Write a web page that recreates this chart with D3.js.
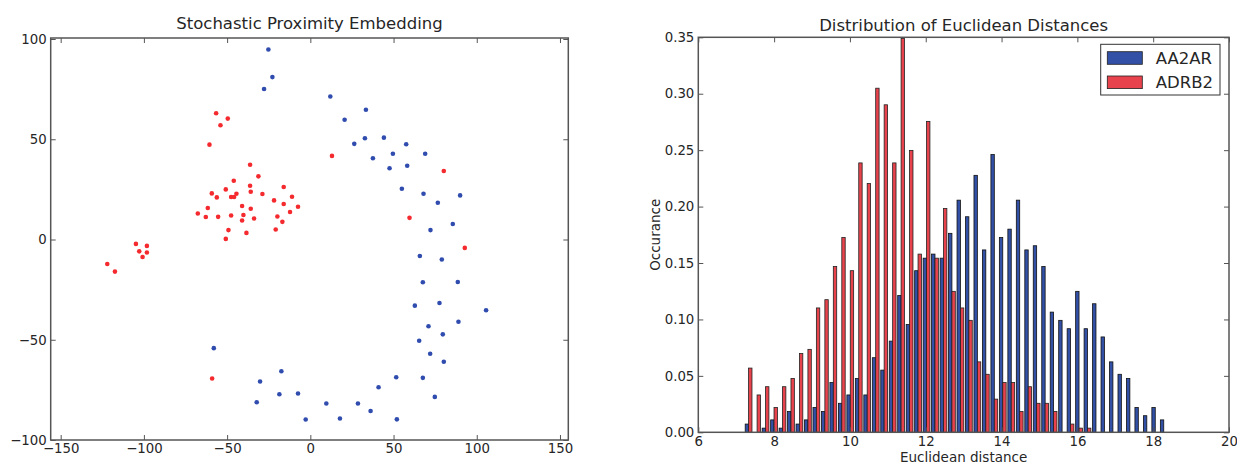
<!DOCTYPE html>
<html><head><meta charset="utf-8">
<script src="https://cdn.jsdelivr.net/npm/d3@7"></script>
<style>
body{margin:0;background:#fff}
svg{display:block}
text{font-family:"DejaVu Sans",sans-serif;fill:#262626}
</style>
</head><body>
<svg id="c" width="1237" height="466"></svg>
<script>
// ---------- Stochastic Proximity Embedding (scatter) ----------
const bluePoints = [
  [-25.2,94.8],[-22.8,81],[-27.8,75.1],
  [12,71.3],[33.4,64.7],[20.6,59.7],[26.4,47.7],[32.8,50.5],[44.2,50.8],[57.6,47.5],[49.6,42.8],[69,42.8],
  [37.6,40.5],[58.2,36.8],[47.6,35.5],[55,25.3],[68,22.8],[90,22],[76.6,18.3],[85.6,7.7],[72.2,4.7],
  [65.8,-8.2],[79,-10],[67.6,-21.3],[88.6,-21.2],[62.8,-33],[77.6,-31.7],[105.6,-35.3],[71,-43.3],[89,-41],
  [79.6,-47.3],[65.4,-50.5],[72,-57],[80.2,-61],[51.6,-68.7],[67.6,-69],[41,-73.7],[74.8,-78.5],[9.6,-81.8],
  [28.6,-81.8],[36.2,-85.5],[17.8,-89.3],[52,-89.7],
  [-58,-54.2],[-17.4,-65.7],[-30.2,-70.8],[-18.6,-77.2],[-7.4,-76.8],[-32.2,-81.2],[-2.8,-89.8]
];
const redPoints = [
  [-56.6,63],[-49.6,60.3],[-54,57],[-60.6,47.3],[-36.2,37.3],[-31.2,31.5],[-46,29.3],[-50.8,25],[-36.2,26.8],
  [-35.8,23.8],[-16,26.2],[-28.8,22.7],[-59.2,23],[-56.2,21],[-47.6,21.2],[-45.8,21.2],[-44.4,22.8],[-11,21.3],
  [-21.8,19.5],[-16,17.7],[-7.4,16.3],[-41,16.7],[-35.8,15.3],[-61.6,15.7],[-67.6,13],[-12.2,13.7],[-62.8,11.2],
  [-55.4,11.3],[-47.6,12],[-40.2,12.2],[-19.8,11.5],[-41,9.5],[-33.8,10.5],[-16.8,8.8],[-49.2,4.7],[-20.8,5],
  [-38.4,3.3],[-50.8,0.3],
  [-104.8,-2.2],[-98.2,-3.2],[-102.8,-5.9],[-98.2,-6.5],[-100.8,-8.7],[-122,-12.2],[-117.4,-16],[-59,-69.3],
  [13,41.7],[80.2,34.2],[59.6,10.8],[92.8,-4.2]
];
const scatterXTicks = [-150,-100,-50,0,50,100,150];
const scatterYTicks = [-100,-50,0,50,100];
const scatterTitle = "Stochastic Proximity Embedding";

// ---------- Distribution of Euclidean Distances (histogram) ----------
const binLefts = [7.215,7.439,7.662,7.886,8.109,8.333,8.556,8.780,9.003,9.227,
  9.450,9.674,9.897,10.121,10.344,10.568,10.791,11.015,11.238,11.462,
  11.685,11.909,12.132,12.356,12.579,12.803,13.026,13.250,13.473,13.697,
  13.920,14.144,14.367,14.591,14.814,15.038,15.261,15.485,15.708,15.932,
  16.155,16.379,16.602,16.826,17.049,17.273,17.496,17.720,17.943,18.167];
const binWidth = 0.2235;
const aa2arValues = [0.0073,0,0.0037,0.011,0.0037,0.0184,0.0073,0.011,0.022,0.0184,
  0.0441,0.0257,0.0331,0.0477,0.0331,0.0661,0.0551,0.0808,0.1212,0.0955,
  0.1432,0.1543,0.1579,0.1543,0.1763,0.2057,0.191,0.2277,0.1616,0.2461,
  0.1726,0.18,0.2057,0.1616,0.1653,0.1469,0.1065,0.0992,0.0918,0.1249,
  0.0918,0.1139,0.0845,0.0624,0.0514,0.0477,0.022,0.0147,0.022,0.011];
const adrb2Values = [0.0569,0.0331,0.0404,0.022,0.0404,0.0477,0.0698,0.0735,0.1102,0.1175,
  0.1469,0.1726,0.1432,0.2387,0.2204,0.3049,0.2902,0.2387,0.3489,0.2498,
  0.1579,0.2755,0.1543,0.1983,0.1249,0.1102,0.0992,0.0624,0.0514,0.0294,
  0.0441,0.0441,0.0184,0.0404,0.0257,0.0257,0.0184,0,0.0073,0.0037,
  0.0037,0,0,0,0,0,0,0,0,0];
const histXTicks = [6,8,10,12,14,16,18,20];
const histYTicks = [0,0.05,0.10,0.15,0.20,0.25,0.30,0.35];
const seriesNames = ["AA2AR","ADRB2"];
const histTitle = "Distribution of Euclidean Distances";
const histXLabel = "Euclidean distance";
const histYLabel = "Occurance";

// ---------- drawing ----------
const svg = d3.select("#c");
const BLUE_PT = "#2f4cae", RED_PT = "#f42a2e";
const BLUE_BAR = "#3150a6", RED_BAR = "#e8434c";
const SPINE = "#555";
const TICK_FS = "13.3px";

function frame(g, x0, x1, y0, y1) {
  g.append("rect").attr("x", x0).attr("y", y0).attr("width", x1 - x0).attr("height", y1 - y0)
    .attr("fill", "none").attr("stroke", SPINE).attr("stroke-width", 1.5);
}
function styleAxis(sel) {
  sel.select(".domain").remove();
  sel.selectAll(".tick line").attr("stroke", SPINE).attr("stroke-width", 1);
  sel.selectAll(".tick text").style("font-size", TICK_FS).attr("fill", "#262626");
}
const minusFmt = d => d < 0 ? "\u2212" + Math.abs(d) : String(d);

// Left panel
(function () {
  const L = 50.7, R = 568.3, T = 38, B = 440;
  const x = d3.scaleLinear().domain([-156, 155]).range([L, R]);
  const y = d3.scaleLinear().domain([-100, 100.5]).range([B, T]);
  const g = svg.append("g");

  g.append("g").selectAll("circle").data(bluePoints).join("circle")
    .attr("cx", d => x(d[0])).attr("cy", d => y(d[1])).attr("r", 2.3).attr("fill", BLUE_PT);
  g.append("g").selectAll("circle").data(redPoints).join("circle")
    .attr("cx", d => x(d[0])).attr("cy", d => y(d[1])).attr("r", 2.3).attr("fill", RED_PT);

  g.append("g").attr("transform", `translate(0,${B})`)
    .call(d3.axisBottom(x).tickValues(scatterXTicks).tickFormat(minusFmt).tickSizeInner(-5).tickSizeOuter(0).tickPadding(4))
    .call(styleAxis);
  g.append("g").attr("transform", `translate(0,${T})`)
    .call(d3.axisTop(x).tickValues(scatterXTicks).tickFormat("").tickSizeInner(-5).tickSizeOuter(0))
    .call(styleAxis);
  g.append("g").attr("transform", `translate(${L},0)`)
    .call(d3.axisLeft(y).tickValues(scatterYTicks).tickFormat(minusFmt).tickSizeInner(-5).tickSizeOuter(0).tickPadding(4))
    .call(styleAxis);
  g.append("g").attr("transform", `translate(${R},0)`)
    .call(d3.axisRight(y).tickValues(scatterYTicks).tickFormat("").tickSizeInner(-5).tickSizeOuter(0))
    .call(styleAxis);
  frame(g, L, R, T, B);

  g.append("text").attr("x", (L + R) / 2).attr("y", 29).attr("text-anchor", "middle")
    .style("font-size", "16.5px").text(scatterTitle);
})();

// Right panel
(function () {
  const L = 698.3, R = 1229, T = 37.3, B = 432.3;
  const x = d3.scaleLinear().domain([6, 20]).range([L, R]);
  const y = d3.scaleLinear().domain([0, 0.35]).range([B, T]);
  const g = svg.append("g");
  const w = x(6 + binWidth * 0.4) - x(6);

  const bins = binLefts.map((b, i) => ({ b, a: aa2arValues[i], r: adrb2Values[i] }));
  g.append("g").selectAll("rect").data(bins.filter(d => d.a > 0)).join("rect")
    .attr("x", d => x(d.b + binWidth * 0.1)).attr("width", w)
    .attr("y", d => y(d.a)).attr("height", d => y(0) - y(d.a))
    .attr("fill", BLUE_BAR).attr("stroke", "#111").attr("stroke-width", 0.8);
  g.append("g").selectAll("rect").data(bins.filter(d => d.r > 0)).join("rect")
    .attr("x", d => x(d.b + binWidth * 0.5)).attr("width", w)
    .attr("y", d => y(d.r)).attr("height", d => y(0) - y(d.r))
    .attr("fill", RED_BAR).attr("stroke", "#222").attr("stroke-width", 0.8);

  g.append("g").attr("transform", `translate(0,${B})`)
    .call(d3.axisBottom(x).tickValues(histXTicks).tickFormat(d3.format("d")).tickSizeInner(-5).tickSizeOuter(0).tickPadding(4))
    .call(styleAxis);
  g.append("g").attr("transform", `translate(0,${T})`)
    .call(d3.axisTop(x).tickValues(histXTicks).tickFormat("").tickSizeInner(-5).tickSizeOuter(0))
    .call(styleAxis);
  g.append("g").attr("transform", `translate(${L},0)`)
    .call(d3.axisLeft(y).tickValues(histYTicks).tickFormat(d3.format(".2f")).tickSizeInner(-5).tickSizeOuter(0).tickPadding(4))
    .call(styleAxis);
  g.append("g").attr("transform", `translate(${R},0)`)
    .call(d3.axisRight(y).tickValues(histYTicks).tickFormat("").tickSizeInner(-5).tickSizeOuter(0))
    .call(styleAxis);
  frame(g, L, R, T, B);

  g.append("text").attr("x", (L + R) / 2).attr("y", 30.5).attr("text-anchor", "middle")
    .style("font-size", "16.5px").text(histTitle);
  g.append("text").attr("x", (L + R) / 2).attr("y", 462).attr("text-anchor", "middle")
    .style("font-size", "13.5px").text(histXLabel);
  g.append("text").attr("transform", `translate(660,${(T + B) / 2}) rotate(-90)`).attr("text-anchor", "middle")
    .style("font-size", "13.5px").text(histYLabel);

  // legend
  const lg = g.append("g").attr("transform", `translate(${R - 128.3},${T + 7})`);
  lg.append("rect").attr("x", 0).attr("y", 0).attr("width", 119.3).attr("height", 50.7)
    .attr("fill", "#fff").attr("stroke", "#333").attr("stroke-width", 1);
  const cols = [BLUE_BAR, RED_BAR];
  seriesNames.forEach((n, i) => {
    lg.append("rect").attr("x", 6.6).attr("y", 7.4 + i * 24.3).attr("width", 35).attr("height", 12.6)
      .attr("fill", cols[i]).attr("stroke", "#222").attr("stroke-width", 0.8);
    lg.append("text").attr("x", 55).attr("y", 20 + i * 24).style("font-size", "16.5px").text(n);
  });
})();
</script>
</body></html>
